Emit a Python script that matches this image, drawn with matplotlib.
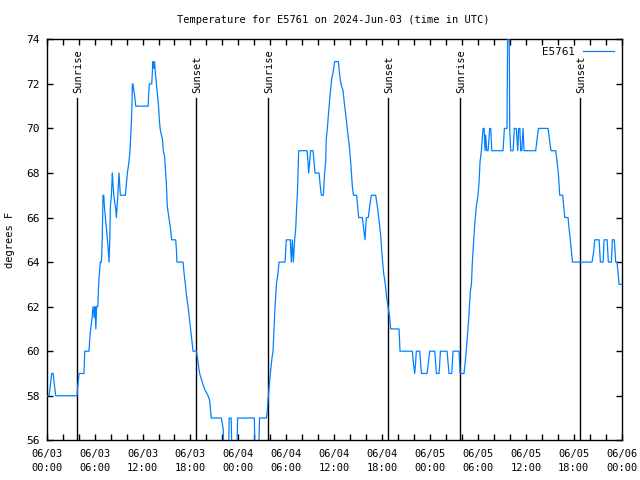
import matplotlib
matplotlib.use('Agg')
import matplotlib.pyplot as plt
import numpy as np

# hours since 2024-06-03 00:00 UTC, temperature in degrees F
day1_hours = [0, 0.3, 0.62, 0.8, 1.12, 3.8, 3.84, 4.05, 4.67, 4.76, 5.3, 5.38, 5.5, 5.68, 5.8,
              5.95, 6.05, 6.15, 6.25, 6.4, 6.5, 6.6, 6.7, 6.85, 6.95, 7.05, 7.14, 7.22, 7.35,
              7.47, 7.6, 7.68, 7.8, 7.9, 7.97, 8.1, 8.22, 8.3, 8.4, 8.5, 8.64, 8.72, 8.8, 8.9,
              9.05, 9.14, 9.22, 9.85, 9.97, 10.1, 10.3, 10.43, 10.56, 10.64, 10.73, 10.8, 10.9,
              11.0, 11.15, 12.7, 12.77, 12.85, 13.15, 13.23, 13.3, 13.4, 13.5, 13.6, 13.73,
              13.85, 14.0, 14.1, 14.2, 14.3, 14.5, 14.6, 14.77, 14.9, 15.0, 15.1, 15.3, 15.5,
              15.65, 16.15, 16.25, 16.3, 17.07, 17.2, 17.36, 17.5, 17.7, 17.86, 18.03, 18.2,
              18.32, 18.75, 18.95, 19.15, 19.57, 19.78, 20.2, 20.4, 20.6, 21.87, 22.1, 22.2,
              22.75, 22.85, 23.1, 23.2, 23.8, 23.9]
day1_temps = [58, 58, 59, 59, 58, 58, 58.25, 59, 59, 60, 60, 60.5, 61, 61.5, 62,
              61.5, 62, 61, 62, 62, 63, 63.5, 64, 64, 65, 67, 67, 66.5, 66,
              65.5, 65, 64.7, 64, 65, 66.5, 67, 68, 67.5, 67, 66.7, 66.4, 66, 66.4, 67,
              68, 67.5, 67, 67, 67.5, 68, 68.5, 69, 70, 70.6, 72, 72, 71.7,
              71.5, 71, 71, 71.6, 72, 72, 72.5, 73, 72.7, 73, 72.5, 72,
              71.5, 71, 70.4, 70, 69.8, 69.5, 69, 68.7, 68, 67.4, 66.5, 66, 65.5,
              65, 65, 64.5, 64, 64, 63.5, 63, 62.5, 62, 61.5, 61, 60.4,
              60, 60, 59.5, 59, 58.5, 58.3, 58, 57.8, 57, 57, 56.5, 55,
              55, 57, 57, 55, 55, 57]

day2_hours = [26.0, 26.1, 26.5, 26.65, 27.5, 27.59, 27.71, 27.92, 28.0, 28.21, 28.34, 28.46,
              28.59, 28.76, 28.96, 29.09, 29.84, 30.0, 30.5, 30.63, 30.76, 30.88, 31.05, 31.18,
              31.3, 31.38, 31.47, 31.55, 32.6, 32.72, 32.8, 32.93, 33.05, 33.35, 33.47, 33.6,
              34.1, 34.26, 34.39, 34.64, 34.8, 34.93, 35.0, 35.14, 35.35, 35.5, 35.68, 35.85,
              36.06, 36.52, 36.68, 36.85, 37.1, 37.31, 37.52, 37.69, 37.9, 38.06, 38.27, 38.4,
              38.81, 38.94, 39.06, 39.52, 39.69, 39.86, 40.02, 40.27, 40.44, 40.65, 41.19, 41.4,
              41.61, 41.82, 41.99, 42.19, 42.4, 42.57, 42.74, 42.95, 43.07, 44.12, 44.24, 45.78,
              45.91, 46.08, 46.2, 46.28, 46.71, 46.92, 47.63, 47.96]
day2_temps = [57, 55, 55, 57, 57, 57.2, 57.8, 58.7, 59, 59.7, 60, 61,
              62, 63, 63.5, 64, 64, 65, 65, 64, 65, 64, 65, 65.5,
              66.5, 67, 68, 69, 69, 68.5, 68, 68.5, 69, 69, 68.5, 68,
              68, 67.4, 67, 67, 68, 68.5, 69.5, 70, 70.9, 71.6, 72.2, 72.5,
              73, 73, 72.4, 72, 71.7, 71, 70.4, 69.8, 69.2, 68.5, 67.4, 67,
              67, 66.5, 66, 66, 65.5, 65, 66, 66, 66.5, 67, 67, 66.5,
              65.9, 65.2, 64.3, 63.5, 63, 62.4, 62, 61.5, 61, 61, 60, 60,
              59.5, 59, 59.5, 60, 60, 59, 59, 60]

day3_hours = [48.59, 48.8, 49.13, 49.3, 50.13, 50.38, 50.72, 50.88, 51.63, 51.76, 52.26, 52.43,
              52.64, 52.85, 53.05, 53.18, 53.3, 53.47, 53.64, 53.8, 54.01, 54.14, 54.26, 54.43,
              54.64, 54.77, 54.89, 54.97, 55.1, 55.27, 55.47, 55.6, 55.73, 57.14, 57.31, 57.64,
              57.73, 57.9, 57.98, 58.1, 58.4, 58.56, 58.81, 58.98, 59.1, 59.25, 59.35, 59.48,
              59.65, 59.77, 61.23, 61.57, 62.78, 62.99, 63.15, 63.74, 63.9, 64.07, 64.24, 64.61,
              64.74, 64.87, 65.28, 65.41, 65.57, 65.7, 65.83, 68.29, 68.5, 68.62, 69.17, 69.33,
              69.67, 69.79, 70.17, 70.33, 70.71, 70.83, 71.08, 71.25, 71.42, 71.54, 71.67, 72.0]
day3_temps = [60, 59, 59, 60, 60, 59, 59, 60, 60, 59, 59, 59.6,
              60.5, 61.5, 62.7, 63, 64, 65, 65.9, 66.5, 67, 67.6, 68.5, 69,
              70, 70, 69, 69.7, 69, 69, 70, 70, 69, 69, 70, 70,
              75, 75, 70, 69, 69, 70, 70, 69, 70, 70, 69, 69,
              70, 69, 69, 70, 70, 69.4, 69, 69, 68.5, 68, 67, 67,
              66.5, 66, 66, 65.5, 65, 64.5, 64, 64, 64.5, 65, 65, 64,
              64, 65, 65, 64, 64, 65, 65, 64, 64, 63.5, 63, 63]

sunrise_hours = [3.79, 27.76, 51.75]
sunset_hours = [18.66, 42.74, 66.78]

tick_hours = list(range(0, 73, 6))
tick_labels = ['06/03\n00:00', '06/03\n06:00', '06/03\n12:00', '06/03\n18:00',
               '06/04\n00:00', '06/04\n06:00', '06/04\n12:00', '06/04\n18:00',
               '06/05\n00:00', '06/05\n06:00', '06/05\n12:00', '06/05\n18:00',
               '06/06\n00:00']

hours = np.array(day1_hours + day2_hours + day3_hours)
temps = np.array(day1_temps + day2_temps + day3_temps)

plt.rcParams['font.family'] = 'DejaVu Sans Mono'
plt.rcParams['font.size'] = 7.5

fig = plt.figure(figsize=(6.4, 4.8), dpi=100)
ax = fig.add_axes([0.073, 0.0827, 0.8984, 0.8354])

ax.plot(hours, temps, color='#0080ff', lw=0.9, label='E5761', zorder=3)

# sunrise / sunset markers
for name, hs in (('Sunrise', sunrise_hours), ('Sunset', sunset_hours)):
    for h in hs:
        ax.plot([h, h], [0, 0.8525], color='black', lw=1,
                transform=ax.get_xaxis_transform(), zorder=2)
        ax.text(h + 0.15, 0.866, name, rotation=90, ha='center', va='bottom',
                transform=ax.get_xaxis_transform(), fontsize=7.5)

ax.set_xlim(0, 72)
ax.set_ylim(56, 74)
ax.set_xticks(tick_hours)
ax.set_xticklabels(tick_labels, linespacing=1.5)
ax.set_xticks(range(0, 73, 2), minor=True)
ax.set_yticks(range(56, 75, 2))
ax.tick_params(which='both', direction='in', top=True, right=True,
               length=4, width=1, color='black')
ax.tick_params(axis='x', which='major', pad=6)
ax.tick_params(axis='y', which='major', pad=5, labelsize=8)
for s in ax.spines.values():
    s.set_linewidth(1)

ax.set_ylabel('degrees F', labelpad=8)
fig.text(0.521, 0.958, 'Temperature for E5761 on 2024-Jun-03 (time in UTC)',
         ha='center', va='center', fontsize=7.5)

ax.legend(loc='upper right', frameon=False, markerfirst=False, handlelength=3.0,
          handletextpad=0.8, borderaxespad=0.3, fontsize=8,
          prop={'family': 'DejaVu Sans'})

fig.savefig('out.png', dpi=100)
